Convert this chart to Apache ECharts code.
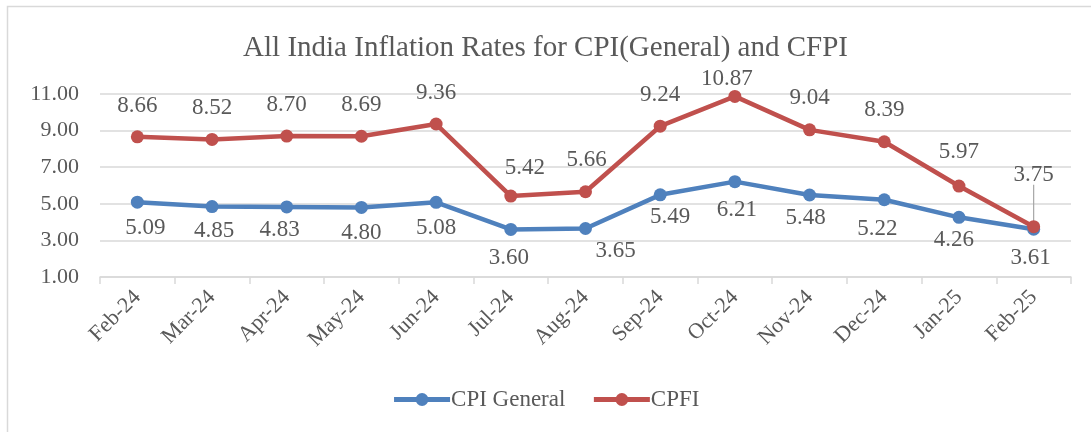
<!DOCTYPE html>
<html>
<head>
<meta charset="utf-8">
<script src="https://cdn.jsdelivr.net/npm/echarts@6/dist/echarts.min.js"></script>
<style>
html,body{margin:0;padding:0;background:#fff;}
#chart{width:1091px;height:432px;}
</style>
</head>
<body>
<div id="chart"></div>
<script>
const categories = ['Feb-24','Mar-24','Apr-24','May-24','Jun-24','Jul-24','Aug-24','Sep-24','Oct-24','Nov-24','Dec-24','Jan-25','Feb-25'];
const cpiGeneral = [5.09,4.85,4.83,4.80,5.08,3.60,3.65,5.49,6.21,5.48,5.22,4.26,3.61];
const cfpi = [8.66,8.52,8.70,8.69,9.36,5.42,5.66,9.24,10.87,9.04,8.39,5.97,3.75];
const yTicks = {min:1, max:11, interval:2};

// label placement (pixel offsets from point centre), style only
const cpiLabelOffsets = [[8,26],[2,24],[-7,23],[0,25],[0,26],[-2,29],[30,22],[10,22],[2,28],[-4,23],[-7,29],[-5,23],[-3,29]];
const cfpiLabelOffsets = [[0,-31],[0,-31],[0,-31],[0,-31],[0,-31],[14,-28],[1,-32],[0,-31],[-8,-17],[0,-32],[0,-32],[0,-34],[0,-52]];

const FONT = '"Liberation Serif","Times New Roman",serif';
const TXT = '#595959';
const BLUE = '#4F81BD';
const RED = '#C0504D';

function buildData(vals, offs){
  return vals.map((v,i)=>({value:v, label:{offset:offs[i]}}));
}

const chart = echarts.init(document.getElementById('chart'), null, {renderer:'canvas'});
const lastIdx = categories.length - 1;

const border = {type:'rect', shape:{x:7.5, y:6.5, width:1200, height:1000}, style:{fill:null, stroke:'#d9d9d9', lineWidth:1.5}, silent:true, z:-1};

chart.setOption({
  animation:false,
  backgroundColor:'#fff',
  title:{
    text:'All India Inflation Rates for CPI(General) and CFPI',
    left:'center', top:29,
    textStyle:{fontFamily:FONT, fontSize:29, fontWeight:'normal', color:TXT}
  },
  legend:{
    bottom:16, left:'center',
    itemWidth:56, itemHeight:16, itemGap:26,
    lineStyle:{width:5},
    textStyle:{fontFamily:FONT, fontSize:23, color:TXT, padding:[0,0,0,-4]},
    data:['CPI General','CPFI']
  },
  grid:{left:100, right:20, top:94, bottom:155},
  xAxis:{
    type:'category',
    data:categories,
    boundaryGap:true,
    axisLine:{lineStyle:{color:'#d9d9d9', width:1.5}},
    axisTick:{show:true, length:7, lineStyle:{color:'#d9d9d9', width:1.5}},
    axisLabel:{rotate:45, margin:17, fontFamily:FONT, fontSize:22, color:TXT, interval:0}
  },
  yAxis:{
    type:'value',
    min:yTicks.min, max:yTicks.max, interval:yTicks.interval,
    axisLine:{show:false}, axisTick:{show:false},
    splitLine:{lineStyle:{color:'#d9d9d9', width:1.5}},
    axisLabel:{margin:21, fontFamily:FONT, fontSize:22, color:TXT, formatter:v=>v.toFixed(2)}
  },
  series:[
    {
      name:'CPI General', type:'line',
      data:buildData(cpiGeneral, cpiLabelOffsets),
      symbol:'circle', symbolSize:13,
      lineStyle:{color:BLUE, width:4.5},
      itemStyle:{color:BLUE},
      label:{show:true, position:'inside', fontFamily:FONT, fontSize:23, color:TXT, formatter:p=>p.value.toFixed(2)},
      z:2
    },
    {
      name:'CPFI', type:'line',
      data:buildData(cfpi, cfpiLabelOffsets),
      symbol:'circle', symbolSize:13,
      lineStyle:{color:RED, width:4.5},
      itemStyle:{color:RED},
      label:{show:true, position:'inside', fontFamily:FONT, fontSize:23, color:TXT, formatter:p=>p.value.toFixed(2)},
      z:3
    }
  ],
  graphic:[border]
});

// leader line for last CPFI label: from label bottom to point, computed from the axis scale
(function(){
  const pt = chart.convertToPixel({seriesIndex:1}, [lastIdx, cfpi[lastIdx]]);
  const off = cfpiLabelOffsets[lastIdx];
  chart.setOption({
    graphic:[
      border,
      {type:'line', shape:{x1:pt[0], y1:pt[1]+off[1]+10, x2:pt[0], y2:pt[1]-4}, style:{stroke:'#a6a6a6', lineWidth:1.2}, z:1, silent:true}
    ]
  });
})();
</script>
</body>
</html>
